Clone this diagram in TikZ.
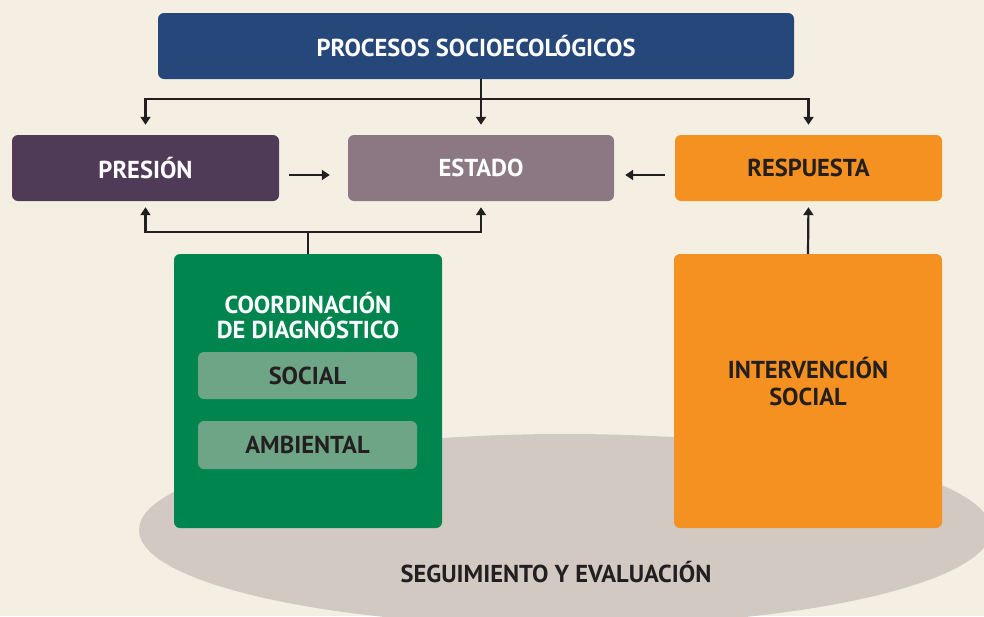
\documentclass[tikz,border=0pt]{standalone}
\usepackage{fontspec}
\setmainfont{PT Sans}
\usetikzlibrary{arrows.meta,calc}
\definecolor{bgc}{HTML}{F5EFE3}
\definecolor{ellc}{HTML}{D3C9C3}
\definecolor{blu}{HTML}{26477A}
\definecolor{plum}{HTML}{4F3B58}
\definecolor{mauve}{HTML}{8C7883}
\definecolor{orng}{HTML}{F59120}
\definecolor{grn}{HTML}{00854F}
\definecolor{lgrn}{HTML}{6FA587}
\definecolor{ink}{HTML}{231F20}
\tikzset{
  box/.style={rounded corners=6pt, inner sep=0pt, font=\fontsize{24.5}{28}\selectfont\bfseries},
  lbl/.style={inner sep=0pt, align=center, font=\fontsize{24.5}{25}\selectfont\bfseries},
  conn/.style={draw=ink, line width=2.2pt},
  arr/.style={conn, -{Triangle[width=10pt,length=8pt]}},
}
\begin{document}
\begin{tikzpicture}[x=1pt,y=-1pt]
\useasboundingbox (0,0) rectangle (984,616);
\fill[bgc] (0,0) rectangle (984,616);
\clip (0,0) rectangle (984,616);
\fill[ellc] (565,530) ellipse [x radius=426, y radius=96];

\node[box, fill=blu, text=white, minimum width=636pt, minimum height=66pt] (proc) at (476,46) {PROCESOS SOCIOECOLÓGICOS};
\node[box, fill=plum, text=white, minimum width=267pt, minimum height=66pt] (pres) at (145.5,168) {PRESIÓN};
\node[box, fill=mauve, text=white, minimum width=266pt, minimum height=66pt] (est) at (481,168) {ESTADO};
\node[box, fill=orng, text=ink, minimum width=267pt, minimum height=66pt] (resp) at (808.5,168) {RESPUESTA};

\node[box, fill=grn, minimum width=268pt, minimum height=274pt] (coord) at (308,391) {};
\node[lbl, text=white] (coordt) at (308,315.5) {COORDINACIÓN\\DE DIAGNÓSTICO};
\node[box, fill=lgrn, text=ink, minimum width=219pt, minimum height=47pt] (soc) at (307.5,375.5) {SOCIAL};
\node[box, fill=lgrn, text=ink, minimum width=219pt, minimum height=48pt] (amb) at (307.5,445) {AMBIENTAL};

\node[box, fill=orng, minimum width=268pt, minimum height=274pt] (interv) at (808,391) {};
\node[lbl, text=ink, font=\fontsize{24.5}{27}\selectfont\bfseries] (intervt) at (808,381.5) {INTERVENCIÓN\\SOCIAL};

\node[lbl, text=ink] (seg) at (556,572) {SEGUIMIENTO Y EVALUACIÓN};

% top connectors
\coordinate (hub) at (481,99);
\draw[conn] (proc.south -| est.north) -- (hub);
\draw[arr, shorten >=10pt] (hub) -- (est.north);
\draw[arr, shorten >=10pt] (hub) -| (pres.north);
\draw[arr, shorten >=10pt] (hub) -| (resp.north);

% horizontal arrows
\draw[arr, shorten <=10pt, shorten >=18pt] ([yshift=-7pt]pres.east) -- ([yshift=-7pt]est.west);
\draw[arr, shorten <=10pt, shorten >=11pt] ([yshift=-7pt]resp.west) -- ([yshift=-7pt]est.east);

% bottom connectors
\coordinate (hub2) at (308,232);
\draw[conn] (coord.north) -- (hub2);
\draw[arr, shorten >=6pt] (hub2) -| (pres.south);
\draw[arr, shorten >=6pt] (hub2) -| (est.south);
\draw[arr, shorten >=6pt] (interv.north) -- (resp.south);
\end{tikzpicture}
\end{document}
